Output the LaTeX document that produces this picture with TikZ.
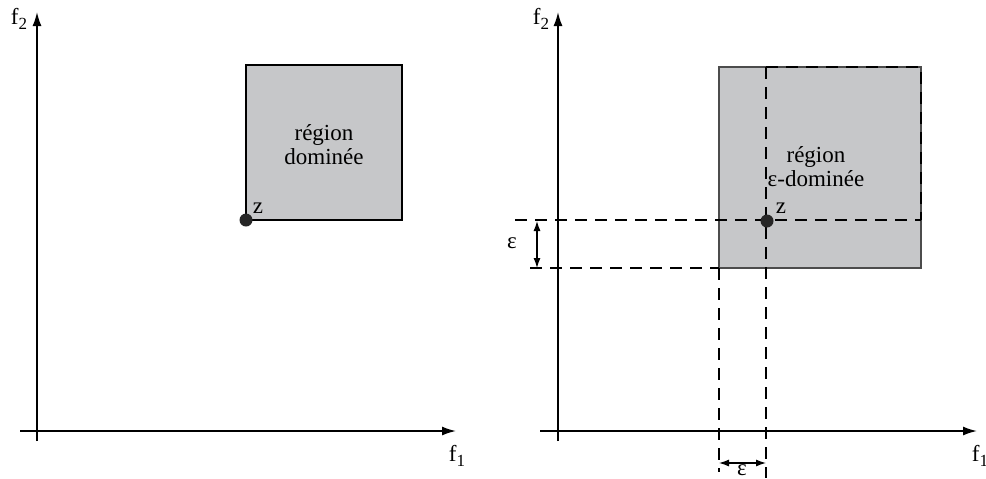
\documentclass[tikz,border=0pt]{standalone}
\usepackage{fontspec}
\setmainfont{Liberation Serif}
\usetikzlibrary{arrows.meta}
\definecolor{boxgray}{RGB}{198,199,201}
\tikzset{
  axis/.style={line width=0.8pt,-{Latex[length=7pt,width=4.5pt]}},
  dsh/.style={line width=0.6pt,dash pattern=on 6pt off 4pt},
  dim/.style={line width=0.6pt,{Latex[length=5pt,width=3.5pt]}-{Latex[length=5pt,width=3.5pt]}},
  lbl/.style={font=\fontsize{11.5}{13}\selectfont,inner sep=0pt},
  dot/.style={circle,fill=black!85,inner sep=0pt,minimum size=6.5pt},
}
\newcommand{\fsub}[1]{f\raisebox{-0.45ex}{\fontsize{8.5}{9}\selectfont #1}}
\begin{document}
\begin{tikzpicture}[x=0.5pt,y=-0.5pt]
\useasboundingbox (0,0) rectangle (986,478);
% ---------- left panel ----------
\coordinate (Lyb) at (37,441);
\coordinate (Lyt) at (37,12);
\coordinate (Lxl) at (20,431);
\coordinate (Lxr) at (456,431);
\draw[axis] (Lyb) -- (Lyt);
\draw[axis] (Lxl) -- (Lxr);
\node[lbl] (Lf2) at (19,19) {\fsub{2}};
\node[lbl] (Lf1) at (457,456) {\fsub{1}};
\draw[fill=boxgray,line width=0.6pt] (246,65) rectangle (402,220);
\node[dot] (Lz) at (246,220) {};
\node[lbl] (Lzl) at (258,208) {z};
\node[lbl,align=center] (Ltxt) at (324,145) {région\\[-1pt]dominée};
% ---------- right panel ----------
\coordinate (Ryb) at (558,441);
\coordinate (Ryt) at (558,12);
\coordinate (Rxl) at (540,431);
\coordinate (Rxr) at (977,431);
\draw[fill=boxgray,draw=black!70,line width=0.6pt] (719,67) rectangle (921,268);
\draw[axis] (Ryb) -- (Ryt);
\draw[axis] (Rxl) -- (Rxr);
\node[lbl] (Rf2) at (541,19) {\fsub{2}};
\node[lbl] (Rf1) at (980,456) {\fsub{1}};
% dashed guide lines
\coordinate (h1a) at (515,220); \coordinate (h1b) at (921,220);
\coordinate (h2a) at (530,268); \coordinate (h2b) at (719,268);
\coordinate (v1a) at (766,67);  \coordinate (v1b) at (766,478);
\coordinate (v2a) at (719,268); \coordinate (v2b) at (719,472);
\coordinate (v3a) at (921,67);  \coordinate (v3b) at (921,220);
\draw[dsh] (h1a) -- (h1b);
\draw[dsh] (h2a) -- (h2b);
\draw[dsh] (v1a) -- (v1b);
\draw[dsh] (v2a) -- (v2b);
\draw[dsh] (v1a) -- (v3a) -- (v3b);
% epsilon dimensions
\coordinate (e1t) at (537,221); \coordinate (e1b) at (537,268);
\draw[dim] (e1t) -- (e1b);
\node[lbl] (eps1) at (512,243) {ε};
\coordinate (e2l) at (719,463); \coordinate (e2r) at (766,463);
\draw[dim] (e2l) -- (e2r);
\node[lbl] (eps2) at (742,470) {ε};
% point z
\node[dot] (Rz) at (767,221) {};
\node[lbl] (Rzl) at (781,208) {z};
\node[lbl,align=center] (Rtxt) at (816,167) {région\\[-1pt]ε-dominée};
\end{tikzpicture}
\end{document}
